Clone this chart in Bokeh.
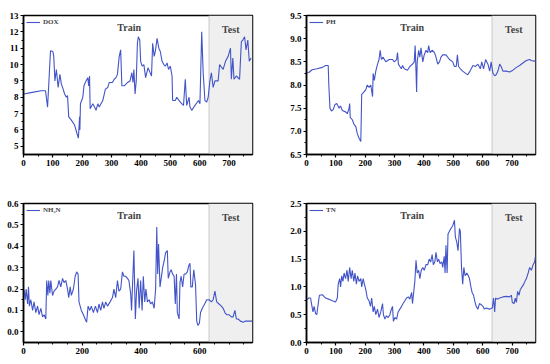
from bokeh.plotting import figure
from bokeh.layouts import gridplot
from bokeh.models import BoxAnnotation, Span, Label, FixedTicker, Range1d, Legend
from bokeh.embed import file_html
from bokeh.resources import INLINE

TRAIN_END = 632
X_MAX = 780

dox_x = [0, 30, 60, 75, 82, 92, 100, 103, 107, 112, 118, 124, 129, 135, 140, 146, 150, 154, 163, 174, 182, 187, 191, 192,
         194, 202, 206, 213, 219, 222, 225, 227, 236, 242, 247, 253, 258, 270, 279, 287, 292, 303, 309, 315, 320, 326, 331,
         335, 343, 354, 363, 369, 373, 376, 380, 384, 388, 391, 396, 399, 404, 410, 416, 424, 429, 436, 440, 445, 449, 455,
         461, 466, 472, 478, 483, 489, 494, 500, 506, 508, 517, 522, 534, 545, 551, 556, 564, 567, 573, 584, 596, 601, 607,
         612, 618, 624, 629, 635, 640, 646, 652, 663, 668, 680, 688, 697, 705, 708, 713, 717, 725, 736, 742, 747, 753, 758,
         764, 769, 775]
dox_y = [8.2, 8.3, 8.4, 8.4, 7.4, 10.85, 10.8, 10.5, 9.0, 9.7, 8.6, 9.4, 8.8, 8.5, 8.2, 8.0, 8.1, 6.8, 6.6, 6.3, 5.8, 5.5, 6.8, 6.0,
         7.6, 8.0, 8.7, 9.0, 9.2, 8.7, 9.3, 7.3, 7.6, 7.4, 7.2, 7.6, 7.4, 7.8, 8.5, 8.6, 8.9, 8.9, 9.1, 9.2, 9.4, 10.5, 10.9,
         8.7, 8.7, 8.9, 9.0, 9.5, 8.9, 9.7, 8.2, 9.0, 11.3, 11.7, 11.5, 10.2, 9.9, 10.0, 9.2, 9.8, 9.6, 9.3, 11.3, 10.5, 10.8, 11.6,
         11.0, 10.8, 10.2, 10.0, 9.9, 10.1, 9.7, 9.9, 9.3, 7.8, 7.8, 8.0, 7.7, 7.5, 9.1, 7.5, 8.0, 7.4, 7.2, 7.5, 7.8, 7.6, 12.0,
         9.5, 7.8, 7.7, 8.0, 9.0, 9.5, 8.6, 9.0, 9.0, 10.0, 9.7, 10.2, 10.5, 11.0, 9.1, 10.4, 9.1, 9.3, 9.1, 11.4, 11.5, 11.7, 10.9,
         11.5, 10.2, 10.4]

ph_x = [0, 8, 19, 36, 54, 65, 74, 76, 80, 85, 91, 97, 103, 111, 116, 122, 133, 139, 145, 147, 149, 156, 162, 168, 173, 179,
        185, 188, 196, 202, 207, 213, 219, 225, 227, 231, 236, 242, 247, 251, 255, 261, 270, 282, 293, 299, 307, 310, 313,
        318, 323, 327, 333, 344, 352, 361, 367, 370, 373, 375, 377, 382, 386, 390, 396, 401, 407, 413, 416, 421, 428, 436,
        441, 447, 453, 458, 464, 475, 487, 498, 504, 510, 514, 518, 524, 532, 542, 549, 557, 567, 576, 584, 592, 597, 603,
        610, 618, 624, 629, 635, 641, 646, 652, 658, 663, 669, 680, 692, 703, 715, 726, 738, 749, 760, 766, 772, 780]
ph_y = [8.26, 8.27, 8.33, 8.35, 8.38, 8.42, 8.42, 8.0, 7.5, 7.44, 7.47, 7.58, 7.6, 7.5, 7.55, 7.45, 7.42, 7.38, 7.5, 7.6, 7.3,
        7.25, 7.15, 7.1, 6.95, 6.85, 6.78, 7.8, 7.85, 7.9, 8.0, 7.95, 8.0, 7.75, 8.25, 8.1, 8.3, 8.45, 8.55, 8.75, 8.55, 8.6,
        8.5, 8.55, 8.55, 8.5, 8.55, 8.7, 8.45, 8.4, 8.35, 8.42, 8.35, 8.32, 8.4, 8.45, 8.5, 8.85, 8.3, 7.85, 8.5, 8.75, 8.6,
        8.8, 8.5, 8.65, 8.75, 8.7, 8.85, 8.7, 8.75, 8.7, 8.6, 8.45, 8.5, 8.6, 8.65, 8.65, 8.55, 8.5, 8.4, 8.4, 8.65, 8.4,
        8.35, 8.3, 8.25, 8.22, 8.3, 8.42, 8.4, 8.45, 8.35, 8.5, 8.35, 8.55, 8.45, 8.3, 8.5, 8.25, 8.2, 8.22, 8.3, 8.45, 8.4,
        8.3, 8.3, 8.28, 8.32, 8.38, 8.42, 8.48, 8.53, 8.55, 8.53, 8.52, 8.51]

nh_x = [2, 6, 9, 14, 17, 20, 25, 31, 36, 42, 48, 53, 59, 65, 70, 76, 79, 83, 86, 90, 93, 99, 104, 110, 116, 121, 127, 133,
        138, 144, 150, 154, 159, 163, 170, 176, 181, 186, 189, 197, 204, 210, 215, 220, 226, 231, 238, 245, 252, 257, 263,
        269, 274, 280, 286, 295, 303, 308, 314, 320, 325, 331, 337, 342, 348, 354, 359, 365, 368, 372, 376, 381, 385, 390,
        394, 399, 404, 408, 413, 417, 422, 428, 433, 439, 445, 450, 454, 457, 460, 465, 469, 474, 479, 484, 490, 493, 499,
        503, 508, 513, 517, 521, 524, 530, 533, 537, 542, 547, 552, 558, 563, 567, 570, 575, 580, 586, 590, 594, 599, 603,
        609, 617, 624, 632, 640, 646, 652, 658, 666, 674, 680, 686, 692, 700, 708, 714, 720, 725, 731, 739, 748, 756, 768,
        780]
nh_y = [0.195, 0.15, 0.2, 0.13, 0.21, 0.12, 0.15, 0.1, 0.14, 0.09, 0.12, 0.08, 0.11, 0.07, 0.08, 0.06, 0.24, 0.17, 0.24, 0.18,
        0.24, 0.17, 0.19, 0.2, 0.21, 0.24, 0.21, 0.25, 0.23, 0.24, 0.2, 0.16, 0.21, 0.17, 0.2, 0.26, 0.28, 0.27, 0.14, 0.1, 0.08,
        0.06, 0.045, 0.12, 0.1, 0.12, 0.09, 0.12, 0.09, 0.13, 0.1, 0.14, 0.11, 0.14, 0.12, 0.14, 0.16, 0.2, 0.16, 0.24, 0.19,
        0.2, 0.28, 0.26, 0.26, 0.25, 0.24, 0.18, 0.1, 0.24, 0.38, 0.06, 0.19, 0.25, 0.11, 0.24, 0.1, 0.26, 0.14, 0.2, 0.14,
        0.15, 0.13, 0.14, 0.11, 0.2, 0.49, 0.27, 0.41, 0.21, 0.25, 0.3, 0.33, 0.37, 0.38, 0.25, 0.28, 0.29, 0.27, 0.26, 0.13,
        0.27, 0.09, 0.06, 0.23, 0.26, 0.21, 0.27, 0.27, 0.28, 0.31, 0.32, 0.21, 0.21, 0.29, 0.22, 0.05, 0.03, 0.04, 0.09, 0.11,
        0.13, 0.15, 0.15, 0.14, 0.15, 0.19, 0.14, 0.13, 0.12, 0.11, 0.09, 0.08, 0.08, 0.07, 0.07, 0.1, 0.06, 0.06, 0.05, 0.045,
        0.05, 0.05, 0.05]

tn_x = [2, 8, 14, 17, 22, 26, 31, 35, 40, 44, 54, 59, 65, 76, 88, 99, 105, 108, 113, 116, 120, 124, 128, 133, 138, 142, 147,
        152, 156, 161, 165, 170, 174, 179, 185, 188, 193, 197, 202, 207, 213, 218, 222, 227, 231, 236, 242, 247, 253, 259,
        262, 267, 272, 278, 284, 288, 293, 296, 301, 307, 312, 318, 324, 329, 335, 341, 347, 352, 358, 361, 366, 369, 373,
        377, 382, 386, 391, 396, 401, 407, 413, 418, 423, 428, 432, 437, 441, 446, 450, 455, 461, 464, 469, 472, 475, 479,
        482, 487, 492, 498, 504, 507, 512, 516, 521, 524, 528, 532, 536, 540, 546, 551, 555, 560, 564, 569, 573, 578, 584,
        589, 595, 601, 606, 612, 623, 633, 637, 641, 644, 649, 658, 669, 680, 692, 698, 701, 707, 711, 715, 719, 724, 728,
        734, 740, 744, 749, 755, 760, 766, 772, 777, 780]
tn_y = [0.77, 0.8, 0.8, 0.7, 0.55, 0.65, 0.52, 0.5, 0.7, 0.85, 0.86, 0.83, 0.8, 0.78, 0.75, 0.73, 0.8, 1.05, 1.15, 1.0, 1.2,
        1.1, 1.25, 1.15, 1.3, 1.1, 1.35, 1.15, 1.3, 1.1, 1.25, 1.05, 1.2, 1.1, 1.15, 1.0, 1.15, 1.05, 0.95, 0.8, 0.75, 0.65,
        0.8, 0.55, 0.65, 0.5, 0.6, 0.45, 0.55, 0.7, 0.5, 0.42, 0.48, 0.45, 0.5, 0.58, 0.65, 0.38, 0.45, 0.42, 0.55, 0.6, 0.65,
        0.7, 0.75, 0.8, 0.82, 0.78, 0.9, 0.7, 0.95, 1.1, 1.48, 1.25, 1.3, 1.15, 1.3, 1.35, 1.3, 1.4, 1.4, 1.5, 1.45, 1.58, 1.4,
        1.45, 1.62, 1.45, 1.5, 1.42, 1.45, 1.35, 1.55, 1.25, 1.75, 1.25, 1.95, 2.0, 2.05, 2.1, 2.2, 1.9, 1.8, 1.65, 2.05, 2.0,
        1.35, 1.05, 1.35, 1.2, 1.25, 1.2, 1.15, 1.0, 0.9, 0.85, 0.75, 0.65, 0.6, 0.7, 0.68, 0.65, 0.6, 0.62, 0.6, 0.62, 0.8,
        0.55, 0.8, 0.78, 0.8, 0.82, 0.83, 0.82, 0.85, 0.72, 0.7, 0.8, 0.72, 0.92, 0.85, 0.95, 1.0, 1.05, 1.1, 1.15, 1.25, 1.35,
        1.3, 1.4, 1.45, 1.55]

LINE_COLOR = "#4254c8"
FONT = "Liberation Serif"


def panel(x, y, name, y_lo, y_hi, y_ticks, x_ticks, fmt, borders):
    left, right, top, bottom = borders
    p = figure(frame_width=229, frame_height=139, output_backend="svg", toolbar_location=None,
               x_range=Range1d(0, X_MAX), y_range=Range1d(y_lo, y_hi),
               min_border_left=left, min_border_right=right, min_border_top=top, min_border_bottom=bottom)
    p.grid.visible = False
    p.outline_line_color = "black"
    p.outline_line_width = 1.5
    p.background_fill_color = "white"
    p.add_layout(BoxAnnotation(left=TRAIN_END, fill_color="#efefef", fill_alpha=1.0, line_alpha=0, level="underlay"))
    p.add_layout(Span(location=TRAIN_END, dimension="height", line_color="#c8c8c8", line_width=1, level="underlay"))
    r = p.line(x, y, line_color=LINE_COLOR, line_width=1.1)
    leg = Legend(items=[(name, [r])], location="top_left", background_fill_alpha=0, border_line_alpha=0,
                 label_text_font=FONT, label_text_font_style="bold", label_text_font_size="7px",
                 glyph_width=14, glyph_height=8, label_height=8, padding=1, margin=2, label_standoff=3, spacing=0)
    p.add_layout(leg)
    span = y_hi - y_lo
    p.add_layout(Label(x=360, y=y_hi - 0.085 * span, text="Train", text_font=FONT, text_font_style="bold",
                       text_font_size="10px", text_align="center", text_baseline="middle"))
    p.add_layout(Label(x=(TRAIN_END + X_MAX) / 2, y=y_hi - 0.1 * span, text="Test", text_font=FONT,
                       text_font_style="bold", text_font_size="10px", text_align="center", text_baseline="middle"))
    minor_x = [v for v in range(0, X_MAX + 1, 50) if v not in x_ticks]
    p.xaxis.ticker = FixedTicker(ticks=x_ticks, minor_ticks=minor_x)
    minor_y = [(a + b) / 2 for a, b in zip(y_ticks[:-1], y_ticks[1:])]
    p.yaxis.ticker = FixedTicker(ticks=y_ticks, minor_ticks=minor_y)
    p.yaxis.major_label_overrides = {t: fmt.format(t) for t in y_ticks}
    for ax in (p.xaxis, p.yaxis):
        ax.axis_line_width = 1.5
        ax.axis_line_color = "black"
        ax.major_tick_line_width = 1.2
        ax.major_tick_in = 0
        ax.major_tick_out = 3
        ax.minor_tick_in = 0
        ax.minor_tick_out = 2
        ax.major_label_text_font = FONT
        ax.major_label_text_font_style = "bold"
        ax.major_label_text_font_size = "9px"
        ax.major_label_text_color = "black"
        ax.major_label_standoff = 2
    return p


p1 = panel(dox_x, dox_y, "DOX", 4.5, 13, [5, 6, 7, 8, 9, 10, 11, 12, 13],
           [0, 100, 200, 300, 400, 500, 600, 700], "{:.0f}", (23, 23, 15, 28))
p2 = panel(ph_x, ph_y, "PH", 6.5, 9.5, [6.5, 7.0, 7.5, 8.0, 8.5, 9.0, 9.5],
           [0, 100, 200, 300, 400, 500, 600, 700], "{:.1f}", (31, 15, 15, 28))
p3 = panel(nh_x, nh_y, "NH\u2083N", -0.05, 0.6, [0.0, 0.1, 0.2, 0.3, 0.4, 0.5, 0.6],
           [0, 200, 400, 600], "{:.1f}", (23, 23, 19, 24))
p4 = panel(tn_x, tn_y, "TN", 0.0, 2.5, [0.0, 0.5, 1.0, 1.5, 2.0, 2.5],
           [0, 100, 200, 300, 400, 500, 600, 700], "{:.1f}", (31, 15, 21, 22))

grid = gridplot([[p1, p2], [p3, p4]], toolbar_location=None)

open("out.html", "w").write(file_html(grid, INLINE))
